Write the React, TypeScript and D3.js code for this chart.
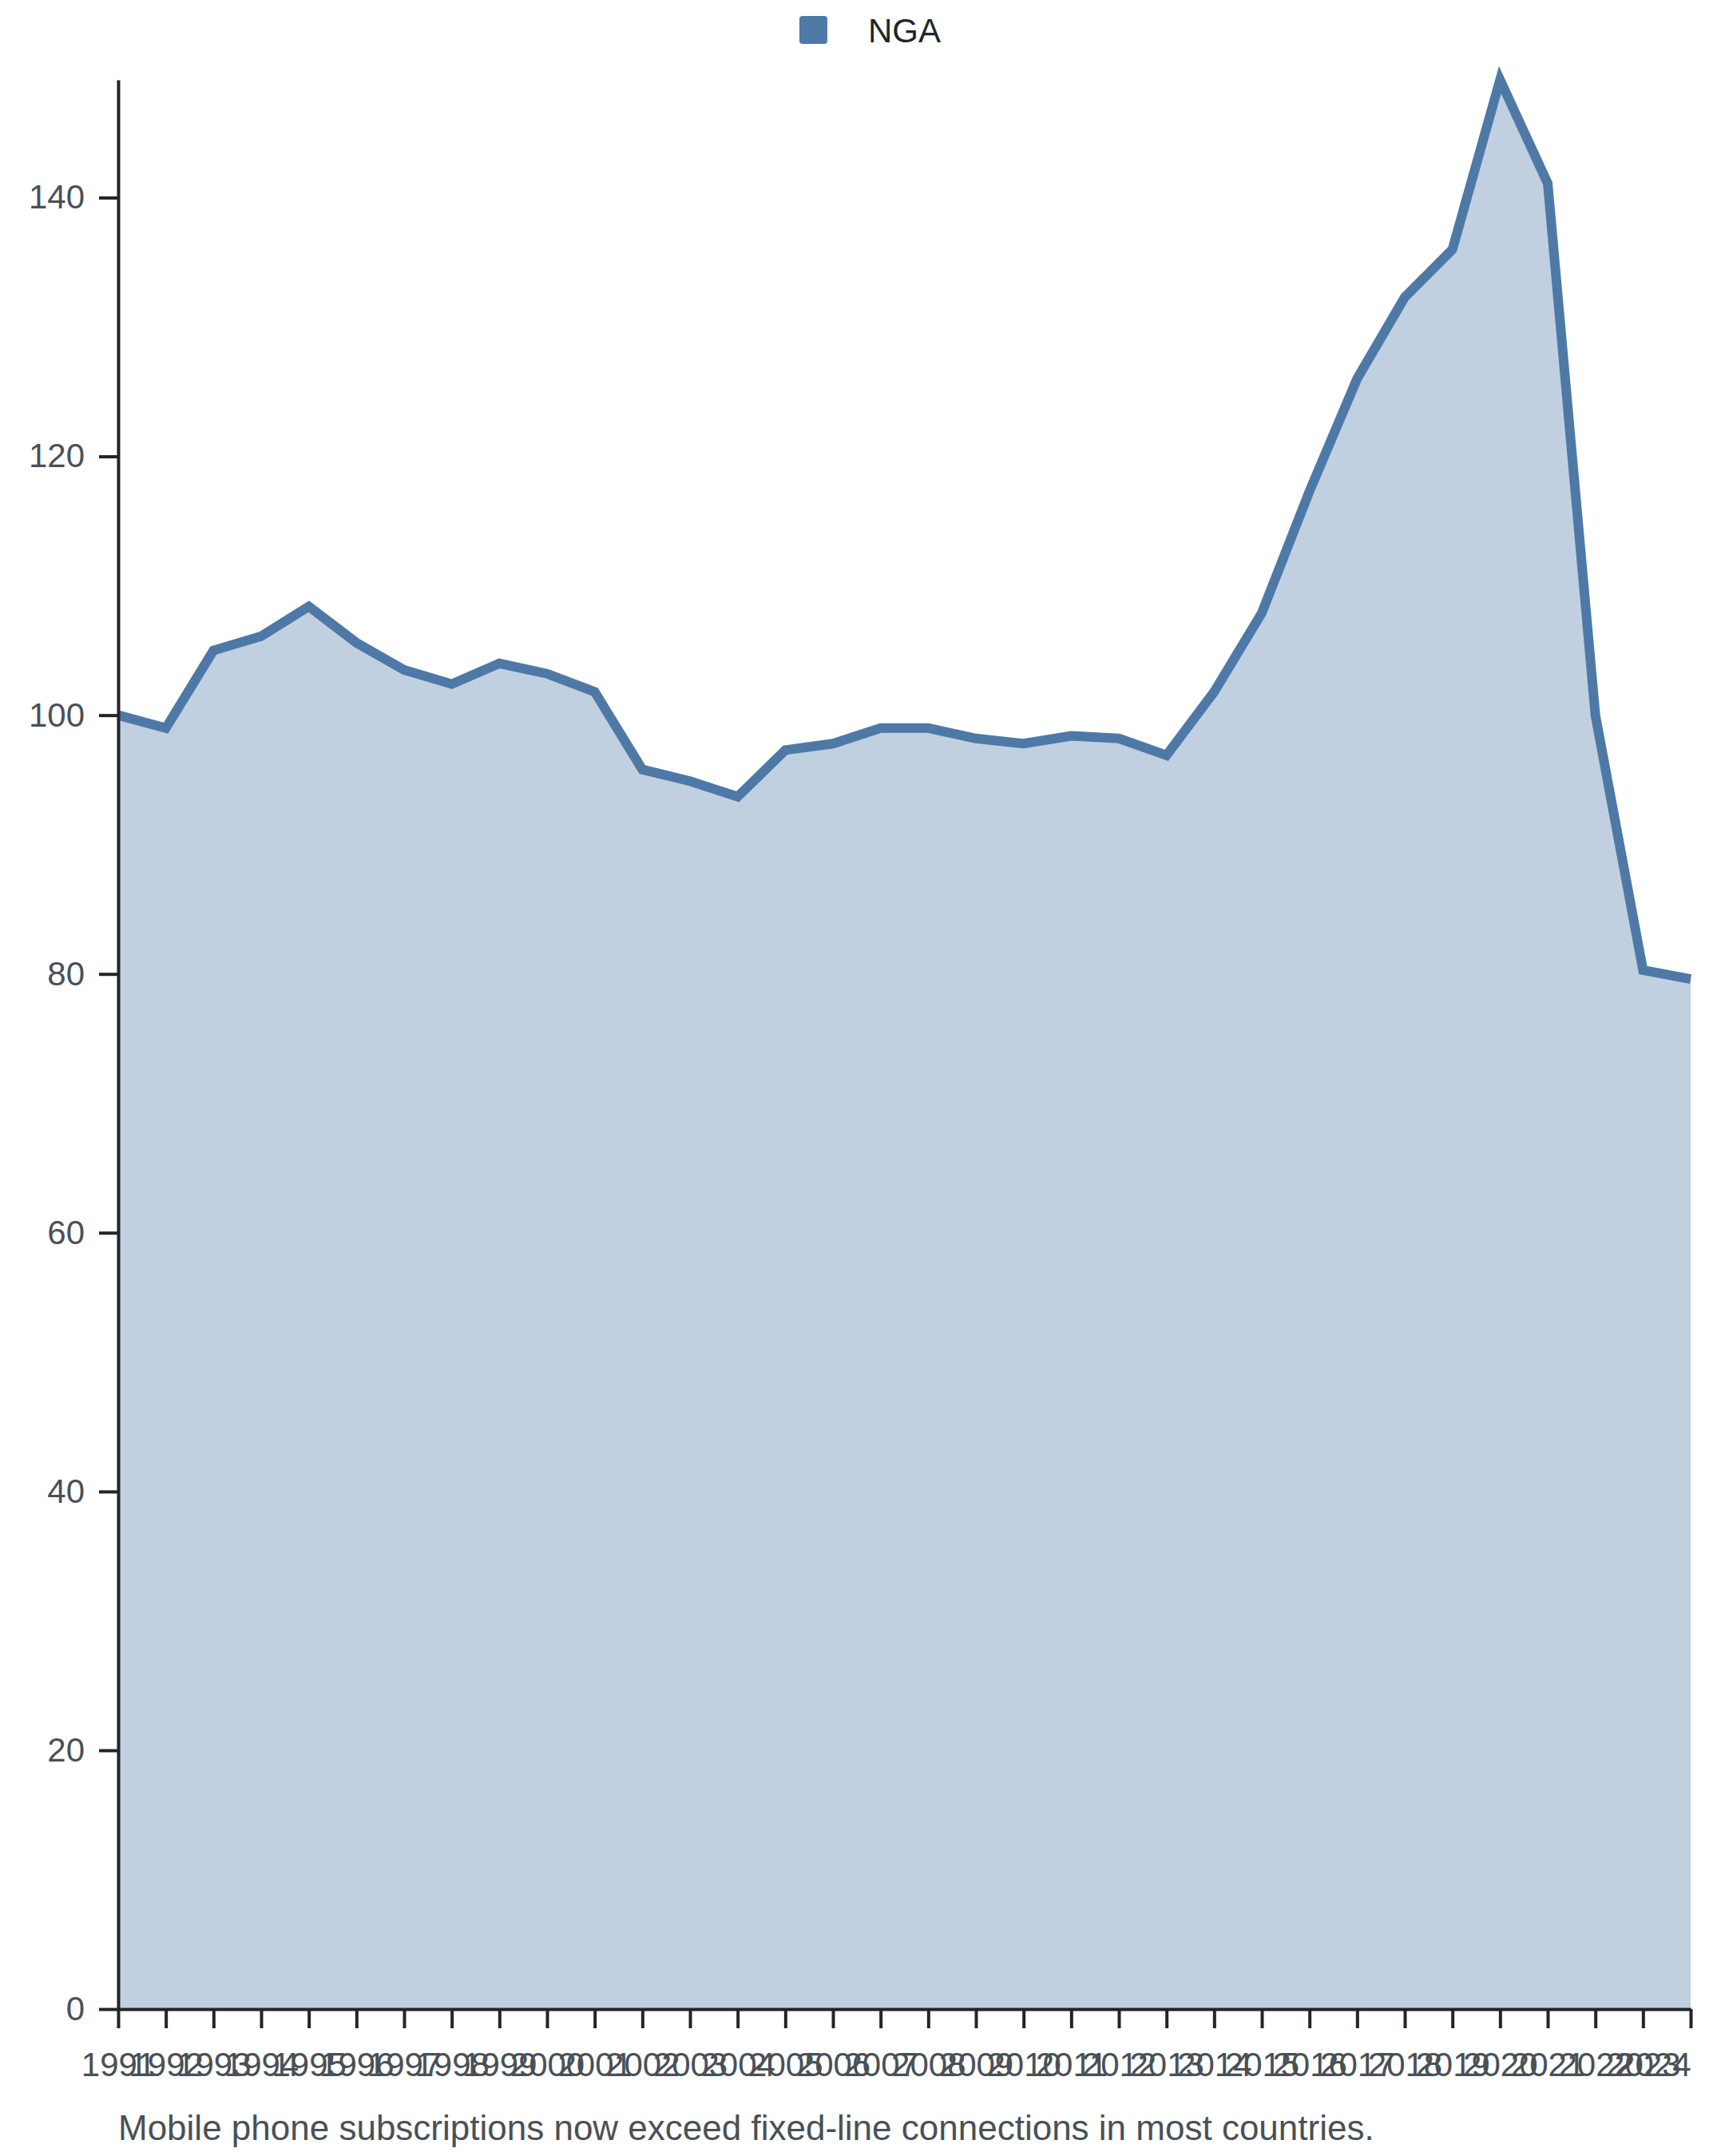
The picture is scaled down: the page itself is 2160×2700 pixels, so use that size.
import * as d3 from 'd3'
import { useEffect, useRef } from 'react'

const years = [
  1991, 1992, 1993, 1994, 1995, 1996, 1997, 1998, 1999, 2000, 2001, 2002, 2003, 2004, 2005, 2006, 2007,
  2008, 2009, 2010, 2011, 2012, 2013, 2014, 2015, 2016, 2017, 2018, 2019, 2020, 2021, 2022, 2023, 2024,
]
const ngaValues = [
  100.0, 99.0, 105.0, 106.1, 108.4, 105.6, 103.5, 102.4, 104.0, 103.2, 101.8, 95.8, 94.9, 93.7, 97.3, 97.8,
  99.0, 99.0, 98.2, 97.8, 98.4, 98.2, 96.9, 101.8, 107.9, 117.3, 126.0, 132.3, 136.0, 149.1, 141.1, 100.0,
  80.3, 79.6,
]
const seriesName = 'NGA'
const yTicks = [0, 20, 40, 60, 80, 100, 120, 140]
const caption = 'Mobile phone subscriptions now exceed fixed-line connections in most countries.'

const W = 2160
const H = 2700
const margin = { top: 100, right: 43, bottom: 184, left: 148 }
const color = '#4e79a7'
const font = '"Liberation Sans", Arial, Helvetica, sans-serif'

export default function App() {
  const ref = useRef<SVGSVGElement>(null)

  useEffect(() => {
    const svg = d3.select(ref.current)
    svg.selectAll('*').remove()

    const data = years.map((year, i) => ({ year, value: ngaValues[i] }))

    const x = d3
      .scaleLinear()
      .domain(d3.extent(years) as [number, number])
      .range([margin.left, W - margin.right])
    const y = d3
      .scaleLinear()
      .domain([0, d3.max(ngaValues) as number])
      .range([H - margin.bottom, margin.top])

    // area + line
    svg
      .append('path')
      .datum(data)
      .attr('fill', color)
      .attr('fill-opacity', 0.35)
      .attr(
        'd',
        d3
          .area<{ year: number; value: number }>()
          .x((d) => x(d.year))
          .y0(y(0))
          .y1((d) => y(d.value))
      )
    svg
      .append('path')
      .datum(data)
      .attr('fill', 'none')
      .attr('stroke', color)
      .attr('stroke-width', 12)
      .attr('stroke-linejoin', 'miter')
      .attr(
        'd',
        d3
          .line<{ year: number; value: number }>()
          .x((d) => x(d.year))
          .y((d) => y(d.value))
      )

    // axes
    const xAxis = d3
      .axisBottom(x)
      .tickValues(years)
      .tickFormat((d) => String(d))
      .tickSize(24)
      .tickSizeOuter(0)
      .tickPadding(30)
    const gx = svg
      .append('g')
      .attr('transform', `translate(0, ${H - margin.bottom})`)
      .call(xAxis)
    const yAxis = d3.axisLeft(y).tickValues(yTicks).tickSize(24).tickSizeOuter(0).tickPadding(18)
    const gy = svg.append('g').attr('transform', `translate(${margin.left}, 0)`).call(yAxis)

    for (const g of [gx, gy]) {
      g.select('.domain').attr('stroke', '#212529').attr('stroke-width', 4)
      g.selectAll('.tick line').attr('stroke', '#212529').attr('stroke-width', 4)
      g.selectAll('.tick text')
        .attr('fill', '#495057')
        .style('font-family', font)
        .style('font-size', '42px')
    }
    // keep the last year inside the plot
    gx.selectAll('.tick text')
      .filter((_, i, nodes) => i === nodes.length - 1)
      .attr('text-anchor', 'end')

    // legend
    const legend = svg.append('g')
    legend
      .append('rect')
      .attr('x', 1001)
      .attr('y', 20)
      .attr('width', 35)
      .attr('height', 35)
      .attr('rx', 4)
      .attr('fill', color)
    legend
      .append('text')
      .attr('x', 1087)
      .attr('y', 53)
      .attr('fill', '#212529')
      .style('font-family', font)
      .style('font-size', '42px')
      .text(seriesName)

    // caption
    svg
      .append('text')
      .attr('x', margin.left)
      .attr('y', 2680)
      .attr('fill', '#495057')
      .style('font-family', font)
      .style('font-size', '44px')
      .text(caption)
  }, [])

  return (
    <svg
      ref={ref}
      width={W}
      height={H}
      style={{ position: 'absolute', left: 0, top: 0, background: '#fff', display: 'block' }}
    />
  )
}
